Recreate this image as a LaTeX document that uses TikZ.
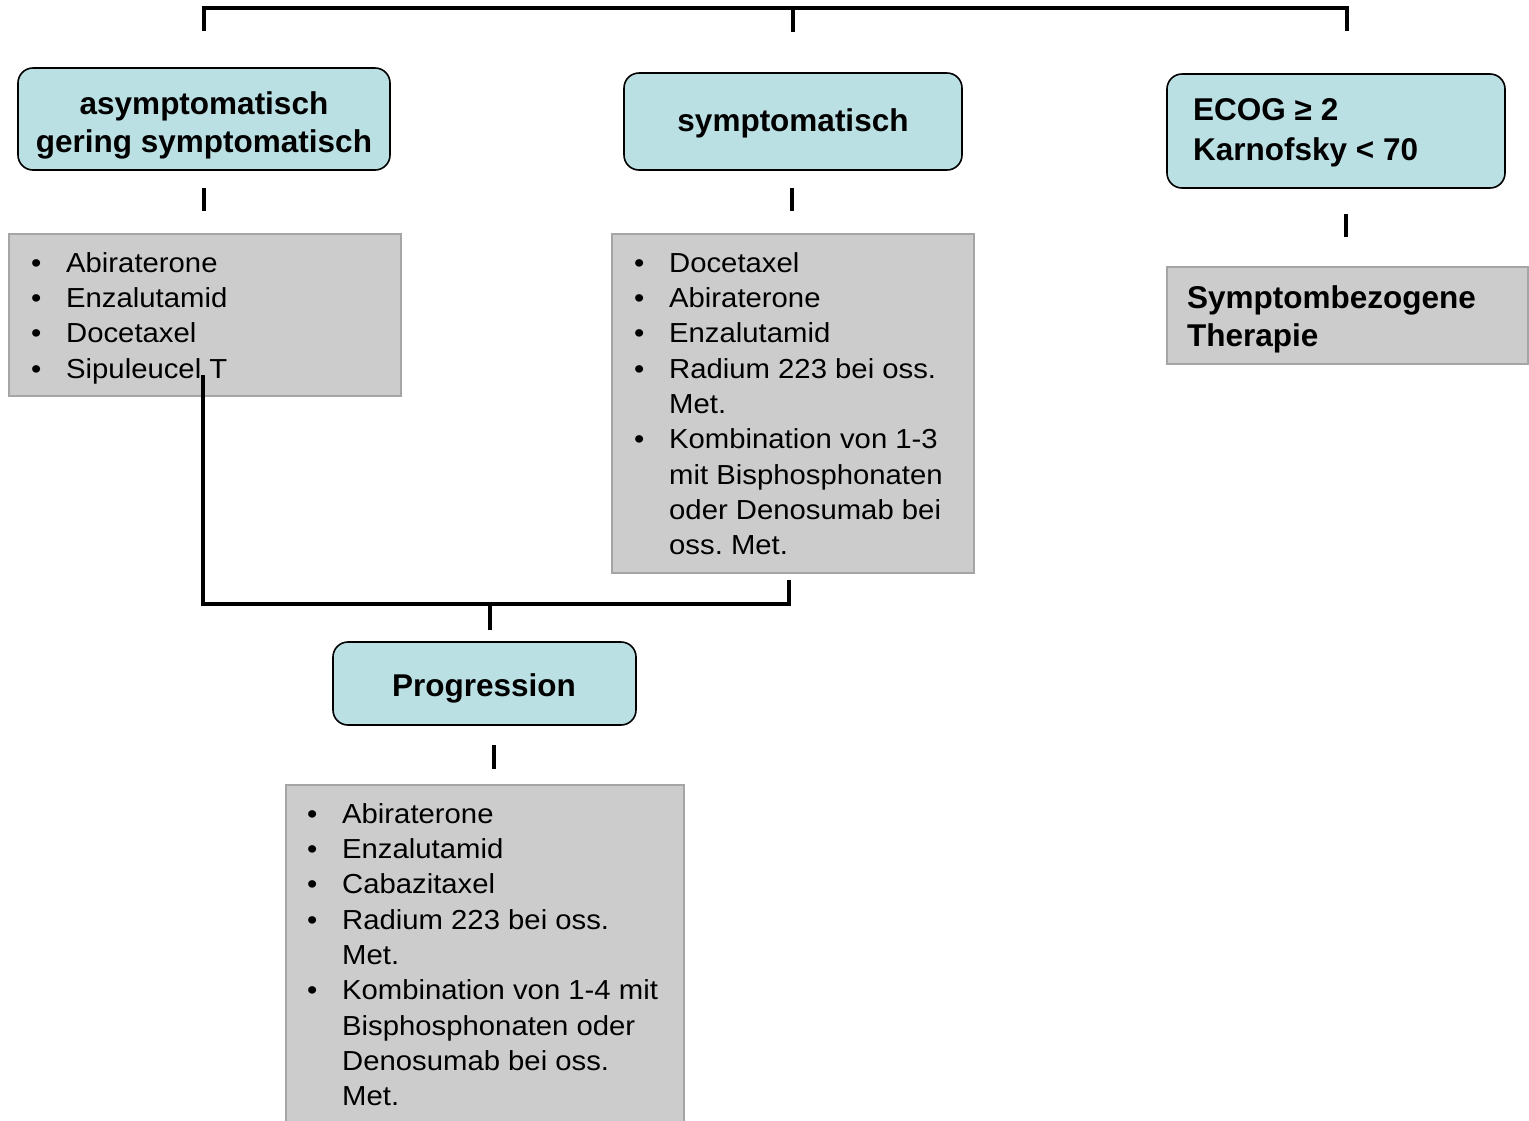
\documentclass[tikz,border=0pt]{standalone}
\usepackage{fontspec}
\setmainfont{Liberation Sans}
\newfontfamily\listfont[FakeStretch=1.065]{Liberation Sans}
\frenchspacing
\definecolor{tealfill}{RGB}{187,224,227}
\definecolor{greyfill}{RGB}{204,204,204}
\definecolor{greyline}{RGB}{165,165,165}
\newcommand{\bul}{\makebox[36pt][l]{\hspace*{1pt}•}}
\newcommand{\ind}{\hspace*{36pt}}
\begin{document}
\begin{tikzpicture}[x=1pt,y=-1pt,
  conn/.style={line width=4pt, black},
  tealbox/.style={draw=black, line width=1.6pt, fill=tealfill, rounded corners=15pt, inner sep=0pt},
  greybox/.style={draw=greyline, line width=2pt, fill=greyfill, inner sep=0pt},
  boldtxt/.style={font=\fontsize{31.5}{38.5}\selectfont\bfseries, inner sep=0pt},
  listtxt/.style={font=\listfont\fontsize{27.5}{35.3}\selectfont, inner sep=0pt, align=left, anchor=north west}
]
\useasboundingbox (0,0) rectangle (1529,1120);

% ---------- boxes ----------
\node[tealbox, minimum width=372pt, minimum height=102pt] (b1) at (204,119) {};
\node[tealbox, minimum width=338pt, minimum height=97pt]  (b2) at (793,121.5) {};
\node[tealbox, minimum width=338pt, minimum height=114pt] (b3) at (1336,131) {};
\node[tealbox, minimum width=303pt, minimum height=83pt]  (prog) at (484.5,683.5) {};

\node[greybox, minimum width=392pt, minimum height=162pt] (g1) at (205,315) {};
\node[greybox, minimum width=362pt, minimum height=339pt] (g2) at (793,403.5) {};
\node[greybox, minimum width=361pt, minimum height=97pt]  (g3) at (1347.5,315.5) {};
\node[greybox, minimum width=398pt, minimum height=340pt] (g4) at (485,955) {};

% ---------- labels ----------
\node[boldtxt, align=center, anchor=north] (l1) at (204,88)
  {\rule{0pt}{26pt}asymptomatisch\\gering symptomatisch};
\node[boldtxt, anchor=base] (l2) at (793,131) {symptomatisch};
\node[boldtxt, font=\fontsize{31.5}{40}\selectfont\bfseries, align=left, anchor=north west] (l3) at (1193,94)
  {\rule{0pt}{26pt}ECOG ≥ 2\\Karnofsky < 70};
\node[boldtxt, anchor=base] (l4) at (484,696) {Progression};
\node[boldtxt, align=left, anchor=north west] (l5) at (1187,282)
  {\rule{0pt}{26pt}Symptombezogene\\Therapie};

% ---------- lists ----------
\node[listtxt] (t1) at (30,247) {\rule{0pt}{25pt}\bul Abiraterone\\
  \bul Enzalutamid\\ \bul Docetaxel\\ \bul Sipuleucel T};
\node[listtxt] (t2) at (633,247) {\rule{0pt}{25pt}\bul Docetaxel\\
  \bul Abiraterone\\ \bul Enzalutamid\\ \bul Radium 223 bei oss.\\
  \ind Met.\\ \bul Kombination von 1-3\\ \ind mit Bisphosphonaten\\
  \ind oder Denosumab bei\\ \ind oss. Met.};
\node[listtxt] (t4) at (306,798) {\rule{0pt}{25pt}\bul Abiraterone\\
  \bul Enzalutamid\\ \bul Cabazitaxel\\ \bul Radium 223 bei oss.\\
  \ind Met.\\ \bul Kombination von 1-4 mit\\ \ind Bisphosphonaten oder\\
  \ind Denosumab bei oss.\\ \ind Met.};

% ---------- connector points ----------
\coordinate (tl) at (204,8);
\coordinate (tm) at (793,8);
\coordinate (tr) at (1347,8);
\coordinate (tld) at (204,31);
\coordinate (tmd) at (793,32);
\coordinate (trd) at (1347,31);

\coordinate (s1a) at (204,188);  \coordinate (s1b) at (204,211);
\coordinate (s2a) at (792,188);  \coordinate (s2b) at (792,211);
\coordinate (s3a) at (1346,214); \coordinate (s3b) at (1346,237);
\coordinate (s4a) at (494,745);  \coordinate (s4b) at (494,769);

\coordinate (ja) at (203,375);
\coordinate (jb) at (203,604);
\coordinate (jc) at (789,604);
\coordinate (jd) at (789,580);
\coordinate (je) at (490,604);
\coordinate (jf) at (490,630);

% ---------- connectors ----------
\draw[conn] (tld) -- (tl) -- (tr) -- (trd);
\draw[conn] (tm) -- (tmd);
\draw[conn] (s1a) -- (s1b);
\draw[conn] (s2a) -- (s2b);
\draw[conn] (s3a) -- (s3b);
\draw[conn] (s4a) -- (s4b);
\draw[conn] (ja) -- (jb) -- (jc) -- (jd);
\draw[conn] (je) -- (jf);
\end{tikzpicture}
\end{document}
